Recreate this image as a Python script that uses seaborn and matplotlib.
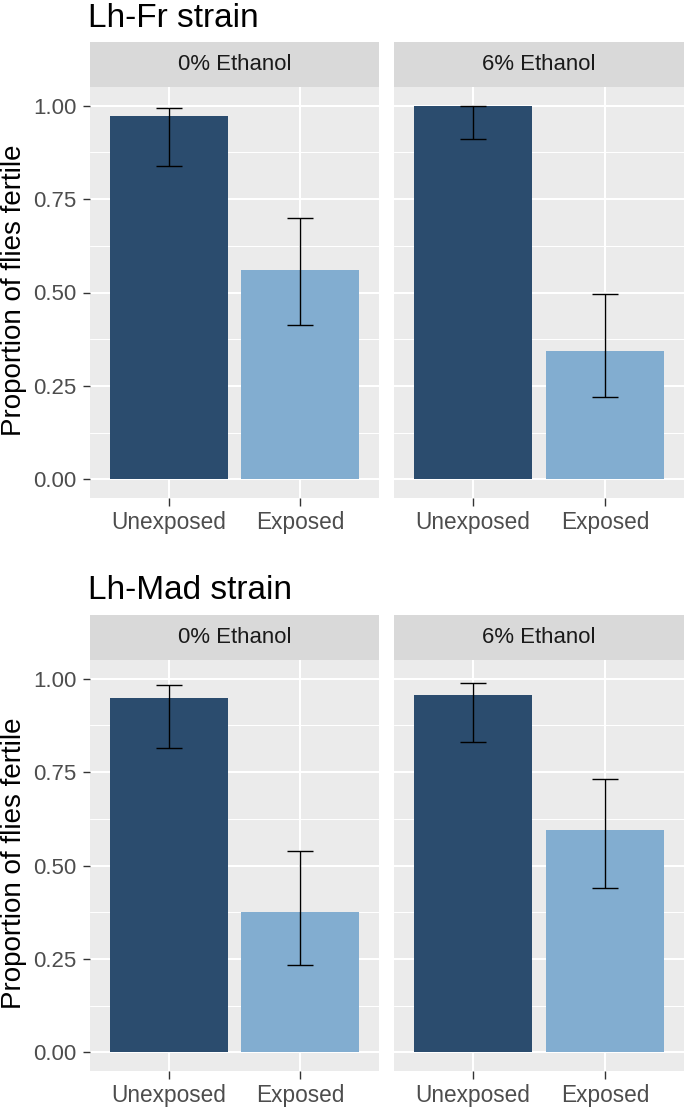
import matplotlib
matplotlib.use("Agg")
import matplotlib.pyplot as plt
import numpy as np
import pandas as pd
import seaborn as sns
from matplotlib.ticker import MultipleLocator

# ------------------------------------------------------------------ data
strains = ["Lh-Fr strain", "Lh-Mad strain"]
ethanol = ["0% Ethanol", "6% Ethanol"]
treatment = ["Unexposed", "Exposed"]

# proportion fertile, per strain -> [0% unexposed, 0% exposed, 6% unexposed, 6% exposed]
fr_prop = [0.973, 0.561, 1.000, 0.343]
fr_low = [0.838, 0.412, 0.912, 0.221]
fr_high = [0.995, 0.699, 1.000, 0.495]

mad_prop = [0.949, 0.375, 0.957, 0.596]
mad_low = [0.814, 0.234, 0.830, 0.441]
mad_high = [0.984, 0.540, 0.989, 0.731]

colors = {"Unexposed": "#2B4C6E", "Exposed": "#82ADD0"}

rows = []
for strain, prop, low, high in [(strains[0], fr_prop, fr_low, fr_high),
                                (strains[1], mad_prop, mad_low, mad_high)]:
    i = 0
    for eth in ethanol:
        for trt in treatment:
            rows.append({"strain": strain, "ethanol": eth, "treatment": trt,
                         "prop": prop[i], "low": low[i], "high": high[i]})
            i += 1
df = pd.DataFrame(rows)

# ------------------------------------------------------------------ style
sns.set_theme(style="darkgrid")
plt.rcParams["font.family"] = ["Liberation Sans", "DejaVu Sans"]

W, H = 685, 1112
fig = plt.figure(figsize=(W / 100, H / 100), dpi=100)
fig.patch.set_facecolor("white")

panel_x = [(90, 379), (394, 684)]
row_tops = [87, 660]        # panel top (px)
panel_h = 411
strip_h = 45
title_y = [3, 575]

for r, strain in enumerate(strains):
    top = row_tops[r]
    fig.text(88 / W, 1 - title_y[r] / H, strain, fontsize=24, color="black",
             ha="left", va="top")
    fig.text(1 / W, 1 - (top + panel_h / 2 - 2) / H, "Proportion of flies fertile",
             fontsize=20, rotation=90, ha="left", va="center", color="black")
    for c, eth in enumerate(ethanol):
        x0, x1 = panel_x[c]
        ax = fig.add_axes([x0 / W, 1 - (top + panel_h) / H, (x1 - x0) / W, panel_h / H])
        sub = df[(df.strain == strain) & (df.ethanol == eth)]
        sns.barplot(data=sub, x="treatment", y="prop", hue="treatment",
                    order=treatment, hue_order=treatment, palette=colors,
                    width=0.9, saturation=1, errorbar=None, legend=False,
                    linewidth=0, ax=ax, zorder=2)
        xs = np.arange(len(treatment))
        ax.errorbar(xs, sub["prop"].values,
                    yerr=[sub["prop"].values - sub["low"].values,
                          sub["high"].values - sub["prop"].values],
                    fmt="none", ecolor="black", elinewidth=1.0, capsize=9.4,
                    capthick=1.0, zorder=3)
        ax.set_xlim(-0.6, 1.6)
        ax.set_ylim(-0.05, 1.05)
        ax.set_facecolor("#EBEBEB")
        ax.yaxis.set_major_locator(MultipleLocator(0.25))
        ax.yaxis.set_minor_locator(MultipleLocator(0.125))
        ax.grid(which="major", color="white", linewidth=1.5)
        ax.grid(which="minor", axis="y", color="white", linewidth=0.75)
        ax.set_axisbelow(True)
        for s in ax.spines.values():
            s.set_visible(False)
        ax.set_xlabel("")
        ax.set_ylabel("")
        ax.tick_params(axis="x", which="major", length=5.5, width=1, color="#333333",
                       labelsize=16.3, labelcolor="#4D4D4D", pad=4, bottom=True)
        ax.tick_params(axis="y", which="minor", length=0)
        if c == 0:
            ax.set_yticks([0, 0.25, 0.5, 0.75, 1.0])
            ax.set_yticklabels(["0.00", "0.25", "0.50", "0.75", "1.00"])
            ax.tick_params(axis="y", which="major", length=5, width=1, color="#333333",
                           labelsize=16, labelcolor="#4D4D4D", pad=4.5, left=True)
        else:
            ax.tick_params(axis="y", which="major", length=0, labelleft=False)

        sax = fig.add_axes([x0 / W, 1 - top / H, (x1 - x0) / W, strip_h / H])
        sax.set_facecolor("#D9D9D9")
        sax.set_xticks([])
        sax.set_yticks([])
        sax.grid(False)
        for s in sax.spines.values():
            s.set_visible(False)
        sax.text(0.5, 0.5, eth, ha="center", va="center", fontsize=15.9,
                 color="#1A1A1A", transform=sax.transAxes)

fig.savefig("out.png", dpi=100, facecolor="white")
